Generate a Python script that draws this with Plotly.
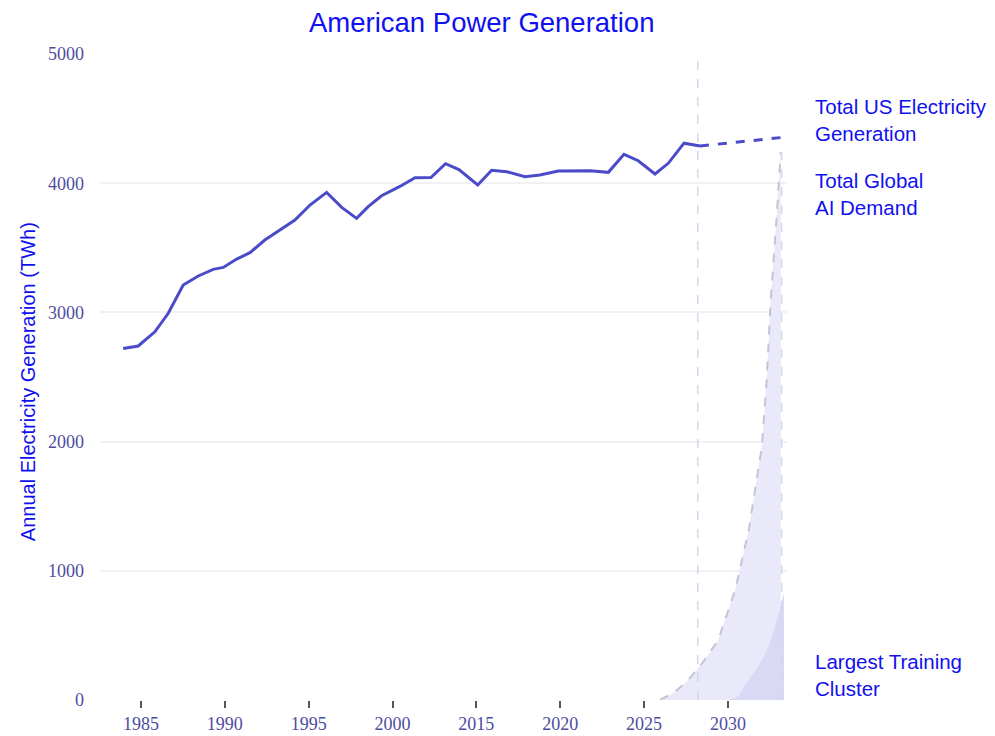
import plotly.graph_objects as go

# ---- data (x in axis units, values in TWh) ----
us_x = [1983.94, 1984.84, 1985.83, 1986.63, 1987.52, 1988.42, 1989.31, 1989.91, 1990.71, 1991.50,
        1992.39, 1993.39, 1994.18, 1995.08, 1996.07, 1996.97, 1997.86, 1998.55, 1999.35, 2000.44,
        2001.34, 2002.29, 2003.16, 2003.96, 2005.08, 2005.91, 2006.81, 2007.90, 2008.79, 2009.88,
        2010.78, 2011.77, 2012.87, 2013.80, 2014.65, 2015.65, 2016.44, 2017.38, 2018.33]
us_y = [2720, 2740, 2850, 2993, 3212, 3282, 3333, 3348, 3413, 3462,
        3560, 3643, 3715, 3831, 3929, 3813, 3728, 3818, 3903, 3975,
        4043, 4044, 4151, 4106, 3986, 4100, 4089, 4050, 4063, 4094,
        4094, 4097, 4084, 4224, 4174, 4071, 4154, 4310, 4288]

proj_x = [2018.33, 2023.30]
proj_y = [4288, 4355]

ai_x = [2015.95, 2016.84, 2017.63, 2018.04, 2018.52, 2019.42, 2020.43, 2021.24, 2021.72,
        2022.02, 2022.31, 2022.55, 2022.85, 2023.15]
ai_y = [0, 62, 155, 217, 294, 464, 851, 1316, 1703, 1960, 2477, 3096, 3638, 4241]

cluster_x = [2019.82, 2020.54, 2020.90, 2021.73, 2022.33, 2022.74, 2022.92, 2023.34]
cluster_y = [0, 23, 93, 248, 387, 542, 619, 828]

divider_x = [2018.2, 2023.2]
divider_top = [5000, 4241]

tick_vals = [1985, 1990, 1995, 2000, 2005, 2010, 2015, 2020]
tick_text = ["1985", "1990", "1995", "2000", "2015", "2020", "2025", "2030"]
y_ticks = [0, 1000, 2000, 3000, 4000, 5000]

BLUE = "#1010f0"
LINE = "#4b4bc9"

fig = go.Figure()

# AI demand area (light) with dashed grey boundary
fig.add_trace(go.Scatter(x=ai_x, y=ai_y, mode="lines", fill="tozeroy",
                         fillcolor="#e9e9fa",
                         line=dict(color="#c4c4d6", width=2, dash="dash"),
                         hoverinfo="skip", showlegend=False))
# Largest training cluster (darker)
fig.add_trace(go.Scatter(x=cluster_x, y=cluster_y, mode="lines", fill="tozeroy",
                         fillcolor="#d9d9f5",
                         line=dict(color="rgba(216,216,245,0)", width=0, shape="spline"),
                         hoverinfo="skip", showlegend=False))
# vertical dividers
for dx, top in zip(divider_x, divider_top):
    fig.add_trace(go.Scatter(x=[dx, dx], y=[0, top], mode="lines",
                             line=dict(color="#d6d6ea", width=1.5, dash="dash"),
                             hoverinfo="skip", showlegend=False))
# US generation
fig.add_trace(go.Scatter(x=us_x, y=us_y, mode="lines",
                         line=dict(color=LINE, width=3), showlegend=False))
fig.add_trace(go.Scatter(x=proj_x, y=proj_y, mode="lines",
                         line=dict(color=LINE, width=3, dash="dash"), showlegend=False))

ann_font = dict(family="Liberation Sans, Arial, sans-serif", size=20.5, color=BLUE)
annotations = [
    dict(text="Total US Electricity<br>Generation", x=1.0378, y=4489, yref="y", xref="paper",
         xanchor="left", yanchor="middle", align="left", showarrow=False, font=ann_font),
    dict(text="Total Global<br>AI Demand", x=1.0378, y=3916, yref="y", xref="paper",
         xanchor="left", yanchor="middle", align="left", showarrow=False, font=ann_font),
    dict(text="Largest Training<br>Cluster", x=1.0378, y=193, yref="y", xref="paper",
         xanchor="left", yanchor="middle", align="left", showarrow=False, font=ann_font),
    dict(text="Annual Electricity Generation (TWh)", x=-0.1048, y=0.492, xref="paper", yref="paper",
         textangle=-90, xanchor="center", yanchor="middle", showarrow=False,
         font=dict(family="Liberation Sans, Arial, sans-serif", size=20, color=BLUE)),
    dict(text="American Power Generation", x=0.556, y=1.0495, xref="paper", yref="paper",
         xanchor="center", yanchor="middle", showarrow=False,
         font=dict(family="Liberation Sans, Arial, sans-serif", size=27.5, color=BLUE)),
]

# page body has an 8px margin, so the figure is sized/offset to compensate
fig.update_layout(
    width=987, height=728,
    margin=dict(l=92, r=208, t=46, b=36, autoexpand=False),
    paper_bgcolor="white", plot_bgcolor="white",
    annotations=annotations,
    xaxis=dict(range=[1982.56, 2023.52], tickvals=tick_vals, ticktext=tick_text,
               showgrid=False, zeroline=False, showline=False, automargin=False,
               ticks="outside", ticklen=7, tickwidth=1.5, tickcolor="#555555",
               tickfont=dict(family="Liberation Serif, Times New Roman, serif", size=18, color="#4d4d9e")),
    yaxis=dict(range=[0, 5000], tickvals=y_ticks, showgrid=True, gridcolor="#f0f0f5", gridwidth=2,
               zeroline=False, showline=False, ticks="", ticklabelstandoff=15, automargin=False,
               tickfont=dict(family="Liberation Serif, Times New Roman, serif", size=18, color="#4d4d9e")),
)

fig.write_html("out.html")
